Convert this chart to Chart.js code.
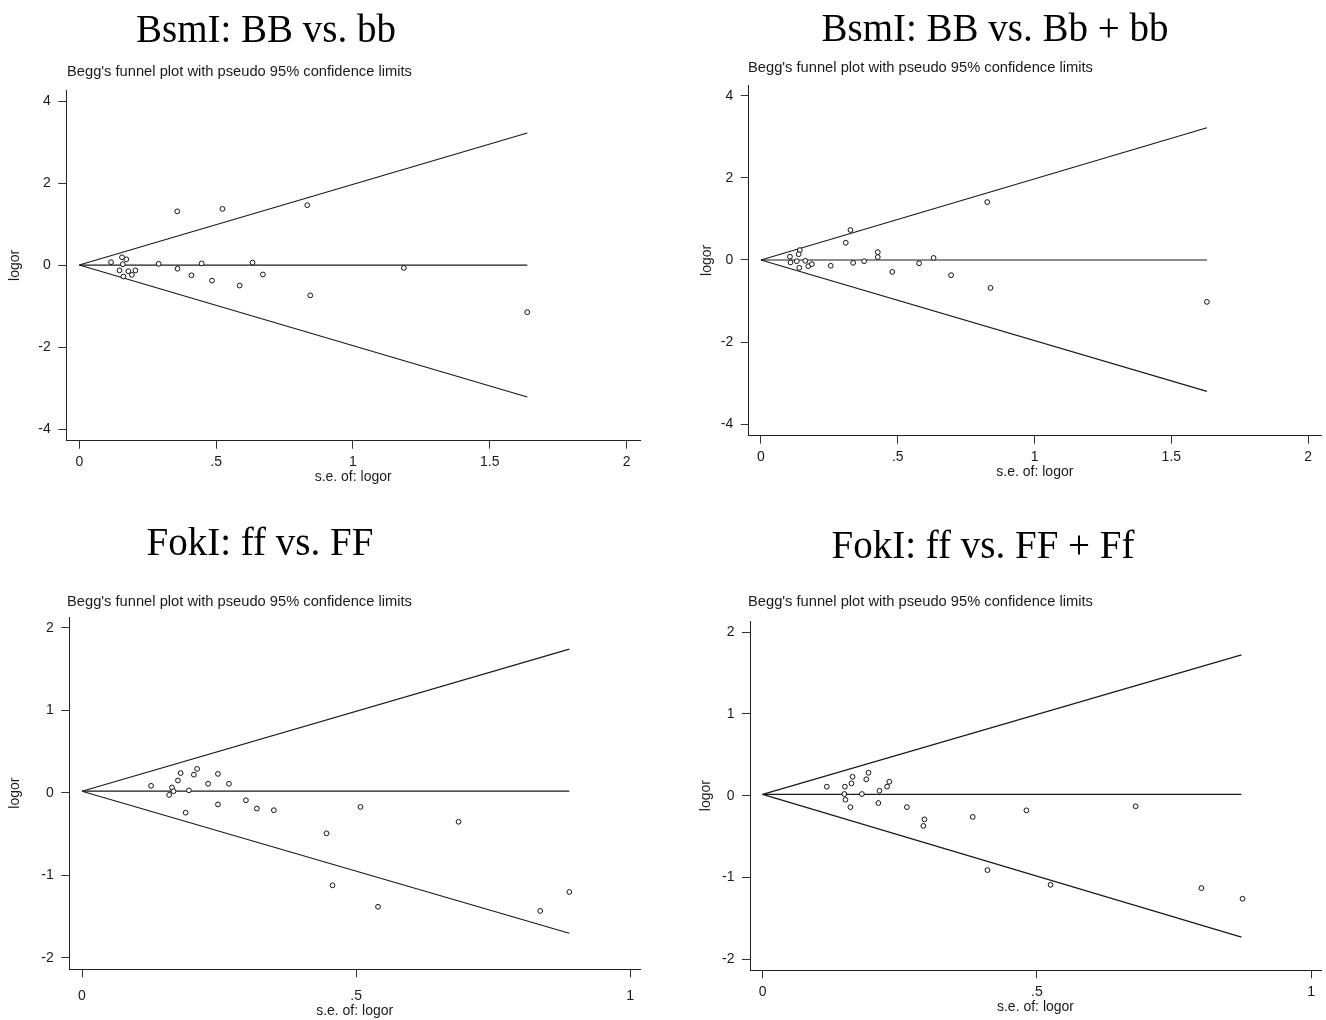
<!DOCTYPE html>
<html>
<head>
<meta charset="utf-8">
<script src="https://cdn.jsdelivr.net/npm/chart.js@4.4.1/dist/chart.umd.min.js"></script>
<style>
  html, body { margin: 0; padding: 0; background: #fff; }
  #page { position: relative; width: 1326px; height: 1020px; overflow: hidden; }
  #page canvas { position: absolute; }
  .title { position: absolute; font-family: 'Liberation Serif', 'Times New Roman', serif; font-size: 39px; color: #000; white-space: nowrap; transform: translate(-50%, -50%); line-height: 1; }
  .sub { position: absolute; font-family: 'Liberation Sans', Arial, sans-serif; font-size: 14.7px; color: #1a1a1a; white-space: nowrap; transform: translateY(-50%); line-height: 1; }
</style>
</head>
<body>
<div id="page"></div>
<script>
// panel titles and shared texts
const titles = ['BsmI: BB vs. bb', 'BsmI: BB vs. Bb + bb', 'FokI: ff vs. FF', 'FokI: ff vs. FF + Ff'];
const subtitle = "Begg's funnel plot with pseudo 95% confidence limits";
const xAxisTitle = 's.e. of: logor';
const yAxisTitle = 'logor';

// tick labels
const yTicksWide = [-4, -2, 0, 2, 4];
const yTicksNarrow = [-2, -1, 0, 1, 2];
const xTicksWide = [0, 0.5, 1, 1.5, 2];
const xTickLabelsWide = ['0', '.5', '1', '1.5', '2'];
const xTicksNarrow = [0, 0.5, 1];
const xTickLabelsNarrow = ['0', '.5', '1'];

// BsmI: BB vs. bb
const bbSe = [0.358, 0.523, 0.833, 0.116, 0.156, 0.172, 0.159, 0.147, 0.179, 0.205, 0.161, 0.192, 0.29, 0.359, 0.447, 0.41, 0.485, 0.633, 0.586, 0.671, 0.844, 1.186, 1.637];
const bbLogor = [1.31, 1.37, 1.46, 0.07, 0.19, 0.14, 0.02, -0.13, -0.15, -0.13, -0.28, -0.24, 0.03, -0.09, 0.04, -0.25, -0.38, 0.06, -0.5, -0.23, -0.74, -0.07, -1.15];
const bbLimitSe = [0, 1.637];
const bbUpper = [0, 3.22];
const bbPooled = [0, 0];
const bbLower = [0, -3.22];

// BsmI: BB vs. Bb + bb
const bbAllSe = [0.827, 0.327, 0.31, 0.142, 0.138, 0.106, 0.108, 0.131, 0.14, 0.162, 0.173, 0.186, 0.255, 0.337, 0.377, 0.427, 0.427, 0.48, 0.578, 0.631, 0.695, 0.839, 1.63];
const bbAllLogor = [1.41, 0.73, 0.42, 0.24, 0.14, 0.08, -0.06, -0.03, -0.19, -0.02, -0.15, -0.1, -0.14, -0.07, -0.03, 0.19, 0.07, -0.29, -0.08, 0.05, -0.37, -0.68, -1.02];
const bbAllLimitSe = [0, 1.63];
const bbAllUpper = [0, 3.22];
const bbAllPooled = [0, 0];
const bbAllLower = [0, -3.2];

// FokI: ff vs. FF
const ffSe = [0.126, 0.164, 0.159, 0.167, 0.175, 0.18, 0.204, 0.21, 0.195, 0.189, 0.23, 0.248, 0.248, 0.268, 0.299, 0.319, 0.35, 0.446, 0.508, 0.457, 0.54, 0.687, 0.836, 0.889];
const ffLogor = [0.085, 0.065, -0.025, 0.02, 0.15, 0.24, 0.22, 0.29, 0.03, -0.24, 0.11, 0.23, -0.14, 0.11, -0.09, -0.19, -0.21, -0.49, -0.17, -1.12, -1.38, -0.35, -1.43, -1.2];
const ffLimitSe = [0, 0.889];
const ffUpper = [0.02, 1.74];
const ffPooled = [0.02, 0.02];
const ffLower = [0.02, -1.7];

// FokI: ff vs. FF + Ff
const ffAllSe = [0.117, 0.15, 0.149, 0.151, 0.16, 0.162, 0.164, 0.181, 0.189, 0.193, 0.213, 0.211, 0.227, 0.231, 0.263, 0.295, 0.293, 0.383, 0.481, 0.41, 0.525, 0.68, 0.8, 0.875];
const ffAllLogor = [0.11, 0.11, 0.02, -0.05, -0.14, 0.15, 0.23, 0.02, 0.2, 0.28, 0.06, -0.09, 0.11, 0.17, -0.14, -0.29, -0.37, -0.26, -0.18, -0.91, -1.09, -0.13, -1.13, -1.26];
const ffAllLimitSe = [0, 0.873];
const ffAllUpper = [0.016, 1.72];
const ffAllPooled = [0.016, 0.016];
const ffAllLower = [0.016, -1.73];

const ink = '#1a1a1a';
const sans = "'Liberation Sans', Arial, sans-serif";

// page-pixel layout for each panel
const panels = [
  { canvas: [0, 0, 663, 510], area: [66.3, 90, 640, 440.7], x: [-0.0475, 2.049], y: [-4.285, 4.27],
    yTitleX: 15, xTitleY: 477, xLabelY: 462, titleAt: [266, 28], subAt: [67, 71],
    xt: xTicksWide, xl: xTickLabelsWide, yt: yTicksWide,
    se: bbSe, lo: bbLogor, lim: bbLimitSe, up: bbUpper, mid: bbPooled, dn: bbLower },
  { canvas: [663, 0, 663, 510], area: [748.7, 85, 1323, 435.7], x: [-0.0448, 2.047], y: [-4.278, 4.26],
    yTitleX: 707, xTitleY: 472, xLabelY: 456.7, titleAt: [995, 27], subAt: [748, 67],
    xt: xTicksWide, xl: xTickLabelsWide, yt: yTicksWide,
    se: bbAllSe, lo: bbAllLogor, lim: bbAllLimitSe, up: bbAllUpper, mid: bbAllPooled, dn: bbAllLower },
  { canvas: [0, 510, 663, 510], area: [69.3, 617, 640, 969.3], x: [-0.0232, 1.018], y: [-2.137, 2.13],
    yTitleX: 15, xTitleY: 1011, xLabelY: 995.7, titleAt: [260, 541], subAt: [67, 601],
    xt: xTicksNarrow, xl: xTickLabelsNarrow, yt: yTicksNarrow,
    se: ffSe, lo: ffLogor, lim: ffLimitSe, up: ffUpper, mid: ffPooled, dn: ffLower },
  { canvas: [663, 510, 663, 510], area: [750, 621, 1324, 970.3], x: [-0.023, 1.018], y: [-2.135, 2.135],
    yTitleX: 706, xTitleY: 1007, xLabelY: 991.7, titleAt: [983, 544], subAt: [748, 601],
    xt: xTicksNarrow, xl: xTickLabelsNarrow, yt: yTicksNarrow,
    se: ffAllSe, lo: ffAllLogor, lim: ffAllLimitSe, up: ffAllUpper, mid: ffAllPooled, dn: ffAllLower },
];

const page = document.getElementById('page');
const pts = (xs, ys) => xs.map((v, i) => ({ x: v, y: ys[i] }));
const lineSet = (xs, ys) => ({
  type: 'line', data: pts(xs, ys), borderColor: ink, borderWidth: 1.2,
  pointRadius: 0, fill: false, tension: 0,
});

panels.forEach((p, i) => {
  const [cl, ct, cw, ch] = p.canvas;
  const [al, at, ar, ab] = p.area;
  const lh = 14 * 1.2;
  const padLeft = p.yTitleX - lh / 2 - cl;
  const yWidth = al - cl - padLeft;
  const xBoxBottom = p.xTitleY + lh / 2;
  const xHeight = xBoxBottom - ab;
  const labelPad = p.xLabelY - ab - 8 - lh / 2;

  const cv = document.createElement('canvas');
  cv.width = cw; cv.height = ch;
  cv.style.left = cl + 'px'; cv.style.top = ct + 'px';
  page.appendChild(cv);

  new Chart(cv, {
    type: 'scatter',
    data: {
      datasets: [
        { data: pts(p.se, p.lo), pointStyle: 'circle', pointRadius: 2.4, pointBorderWidth: 1,
          pointBorderColor: '#111', pointBackgroundColor: '#fff' },
        lineSet(p.lim, p.up),
        lineSet(p.lim, p.mid),
        lineSet(p.lim, p.dn),
      ],
    },
    options: {
      responsive: false, animation: false,
      layout: { padding: { left: padLeft, top: at - ct, right: cl + cw - ar, bottom: ct + ch - xBoxBottom } },
      plugins: { legend: { display: false }, tooltip: { enabled: false } },
      scales: {
        x: {
          type: 'linear', position: 'bottom', min: p.x[0], max: p.x[1],
          afterBuildTicks: s => { s.ticks = p.xt.map(v => ({ value: v })); },
          afterFit: s => { s.height = xHeight; },
          ticks: { autoSkip: false, padding: labelPad, color: ink, font: { family: sans, size: 14 },
            callback: v => p.xl[p.xt.indexOf(v)] },
          grid: { drawOnChartArea: false, drawTicks: true, tickLength: 8, color: '#333' },
          border: { display: true, color: '#222', width: 1 },
          title: { display: true, text: xAxisTitle, color: ink, padding: 0, font: { family: sans, size: 14 } },
        },
        y: {
          type: 'linear', position: 'left', min: p.y[0], max: p.y[1],
          afterBuildTicks: s => { s.ticks = p.yt.map(v => ({ value: v })); },
          afterFit: s => { s.width = yWidth; },
          ticks: { autoSkip: false, padding: 7.5, color: ink, font: { family: sans, size: 14 },
            callback: v => String(v) },
          grid: { drawOnChartArea: false, drawTicks: true, tickLength: 8, color: '#333' },
          border: { display: true, color: '#222', width: 1 },
          title: { display: true, text: yAxisTitle, color: ink, padding: 0, font: { family: sans, size: 14 } },
        },
      },
    },
  });

  const t = document.createElement('div');
  t.className = 'title'; t.textContent = titles[i];
  t.style.left = p.titleAt[0] + 'px'; t.style.top = p.titleAt[1] + 'px';
  page.appendChild(t);

  const s = document.createElement('div');
  s.className = 'sub'; s.textContent = subtitle;
  s.style.left = p.subAt[0] + 'px'; s.style.top = p.subAt[1] + 'px';
  page.appendChild(s);
});
</script>
</body>
</html>
